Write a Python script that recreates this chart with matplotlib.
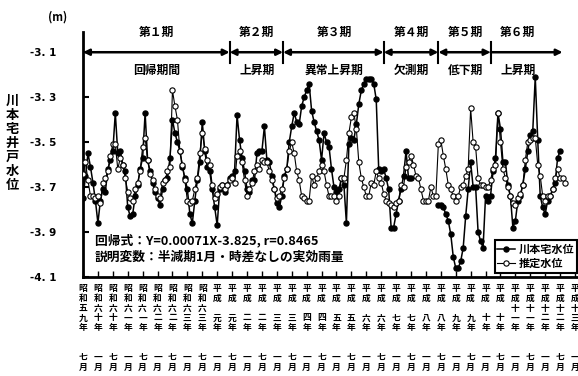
import numpy as np
import matplotlib
matplotlib.use("Agg")
import matplotlib.pyplot as plt

plt.rcParams['font.family'] = ['Noto Sans CJK JP', 'DejaVu Sans']

nan = np.nan
# month index 0 = 昭和59年7月 (1984-07), monthly values [m]
kawamoto = [
    -3.75, -3.65, -3.55, -3.61, -3.68, -3.76, -3.86, -3.76, -3.71, -3.72, -3.62, -3.58,
    -3.54, -3.37, -3.55, -3.54, -3.60, -3.63, -3.79, -3.83, -3.82, -3.74, -3.69, -3.62,
    -3.57, -3.37, -3.58, -3.63, -3.68, -3.72, -3.75, -3.78, -3.71, -3.67, -3.66, -3.57,
    -3.40, -3.46, -3.50, -3.54, -3.61, -3.66, -3.71, -3.82, -3.86, -3.76, -3.67, -3.59,
    -3.41, -3.54, -3.61, -3.63, -3.71, -3.79, -3.87, -3.71, -3.69, -3.72, -3.69, -3.66,
    -3.65, -3.63, -3.38, -3.49, -3.57, -3.63, -3.71, -3.72, -3.67, -3.67, -3.55, -3.54,
    -3.54, -3.43, -3.58, -3.59, -3.65, -3.71, -3.77, -3.79, -3.74, -3.65, -3.62, -3.50,
    -3.43, -3.37, -3.41, -3.42, -3.34, -3.30, -3.27, -3.24, -3.36, -3.41, -3.45, -3.49,
    -3.58, -3.46, -3.50, -3.52, -3.62, -3.70, -3.72, -3.71, -3.66, -3.69, -3.86, -3.51,
    -3.48, -3.49, -3.42, -3.33, -3.27, -3.24, -3.22, -3.22, -3.22, -3.24, -3.31, -3.62,
    -3.63, -3.62, -3.66, -3.71, -3.88, -3.88, -3.82, -3.76, -3.71, -3.65, -3.54, -3.66,
    -3.66, nan, nan, nan, nan, nan, nan, nan, nan, nan, nan, -3.78,
    -3.78, -3.79, -3.82, -3.85, -3.91, -4.01, -4.06, -4.06, -4.03, -3.97, -3.83, -3.71,
    -3.59, -3.70, -3.70, -3.90, -3.94, -3.97, -3.74, -3.76, -3.74, -3.63, -3.57, -3.37,
    -3.44, -3.59, -3.59, -3.69, -3.74, -3.88, -3.85, -3.76, -3.74, -3.69, -3.62, -3.54,
    -3.47, -3.45, -3.21, -3.49, -3.74, -3.79, -3.82, -3.76, -3.74, -3.71, -3.68, -3.57, -3.54,
]
estimated = [
    -3.64, -3.59, -3.67, -3.74, -3.74, -3.75, -3.74, -3.77, -3.68, -3.66, -3.63, -3.56,
    -3.51, -3.51, -3.62, -3.57, -3.60, -3.66, -3.72, -3.75, -3.76, -3.71, -3.68, -3.63,
    -3.52, -3.48, -3.58, -3.64, -3.67, -3.71, -3.74, -3.75, -3.68, -3.67, -3.63, -3.61,
    -3.27, -3.34, -3.40, -3.54, -3.60, -3.67, -3.76, -3.77, -3.76, -3.71, -3.66, -3.55,
    -3.46, -3.53, -3.58, -3.60, -3.69, -3.75, -3.73, -3.70, -3.69, -3.71, -3.69, -3.67,
    -3.66, -3.68, -3.56, -3.54, -3.59, -3.67, -3.74, -3.71, -3.68, -3.63, -3.60, -3.62,
    -3.58, -3.59, -3.59, -3.63, -3.67, -3.71, -3.75, -3.74, -3.71, -3.66, -3.62, -3.54,
    -3.50, -3.55, -3.63, -3.67, -3.74, -3.75, -3.76, -3.76, -3.65, -3.69, -3.66, -3.63,
    -3.60, -3.63, -3.69, -3.74, -3.74, -3.74, -3.76, -3.74, -3.66, -3.66, -3.58, -3.46,
    -3.39, -3.37, -3.44, -3.59, -3.66, -3.70, -3.74, -3.74, -3.68, -3.69, -3.63, -3.66,
    -3.68, -3.73, -3.76, -3.77, -3.78, -3.79, -3.77, -3.76, -3.69, -3.70, -3.61, -3.59,
    -3.56, -3.60, -3.65, -3.66, -3.71, -3.76, -3.76, -3.76, -3.70, -3.74, -3.74, -3.51,
    -3.49, -3.56, -3.62, -3.69, -3.71, -3.74, -3.76, -3.74, -3.70, -3.69, -3.65, -3.62,
    -3.35, -3.50, -3.52, -3.66, -3.69, -3.69, -3.70, -3.70, -3.67, -3.62, -3.60, -3.37,
    -3.50, -3.62, -3.66, -3.70, -3.74, -3.77, -3.78, -3.75, -3.73, -3.69, -3.58, -3.50,
    -3.49, -3.48, -3.48, -3.60, -3.65, -3.74, -3.76, -3.74, -3.74, -3.71, -3.66, -3.62,
    -3.66, -3.66, -3.68,
]

ytick_values = [-3.1, -3.3, -3.5, -3.7, -3.9, -4.1]
ytick_labels = ["-3. 1", "-3. 3", "-3. 5", "-3. 7", "-3. 9", "-4. 1"]

xtick_months = list(range(0, 199, 6))
xtick_labels = [
    "昭和五九年　　七月", "昭和六十年　　一月", "昭和六十年　　七月", "昭和六一年　　一月",
    "昭和六一年　　七月", "昭和六二年　　一月", "昭和六二年　　七月", "昭和六三年　　一月",
    "昭和六三年　　七月", "平成　元年　　一月", "平成　元年　　七月", "平成　二年　　一月",
    "平成　二年　　七月", "平成　三年　　一月", "平成　三年　　七月", "平成　四年　　一月",
    "平成　四年　　七月", "平成　五年　　一月", "平成　五年　　七月", "平成　六年　　一月",
    "平成　六年　　七月", "平成　七年　　一月", "平成　七年　　七月", "平成　八年　　一月",
    "平成　八年　　七月", "平成　九年　　一月", "平成　九年　　七月", "平成　十年　　一月",
    "平成　十年　　七月", "平成十一年　　一月", "平成十一年　　七月", "平成十二年　　一月",
    "平成十二年　　七月", "平成十三年　　一月",
]

period_edges = [0, 59, 80.5, 121, 143, 164, 193]
period_names = ["第１期", "第２期", "第３期", "第４期", "第５期", "第６期"]
period_phases = ["回帰期間", "上昇期", "異常上昇期", "欠測期", "低下期", "上昇期"]
period_centers = [29.5, 70, 101, 132, 154, 175]

series_names = ["川本宅水位", "推定水位"]
ylabel_text = "川本宅井戸水位"
equation_text = "回帰式：Y=0.00071X-3.825, r=0.8465"
variable_text = "説明変数：半減期1月・時差なしの実効雨量"

W, H = 578, 376
fig = plt.figure(figsize=(W / 100, H / 100), dpi=100)
ax = fig.add_axes([83 / W, 1 - 277 / H, (577 - 83) / W, (277 - 32) / H])

ax.plot(np.arange(len(kawamoto)), kawamoto, '-o', color='black', lw=1.1,
        ms=3.6, mfc='black', mec='black', label=series_names[0], zorder=3)
ax.plot(np.arange(len(estimated)), estimated, '-o', color='black', lw=0.8,
        ms=3.8, mfc='white', mec='black', mew=0.8, label=series_names[1], zorder=4)

ax.set_xlim(0, 198.8)
ax.set_ylim(-4.1, -3.01)
for s in ['top', 'right']:
    ax.spines[s].set_visible(False)
for s in ['left', 'bottom']:
    ax.spines[s].set_linewidth(2)

ax.set_yticks(ytick_values)
ax.set_yticklabels(ytick_labels, family='DejaVu Sans', fontsize=7.5, fontweight='bold')
ax.tick_params(axis='y', direction='in', length=4, width=1.5, pad=19)

ax.set_xticks(xtick_months)
ax.set_xticklabels(["\n".join(list(s)) for s in xtick_labels], fontsize=6.3,
                   fontweight='bold', linespacing=1.12, va='top')
ax.tick_params(axis='x', direction='in', length=4, width=1, pad=5)

# period arrows
for i in range(len(period_names)):
    a, b = period_edges[i], period_edges[i + 1]
    style = '<|-|>' if i < len(period_names) - 1 else '-|>'
    ax.annotate('', xy=(b, -3.1), xytext=(a, -3.1),
                arrowprops=dict(arrowstyle=style, color='black', lw=1.8,
                                shrinkA=0, shrinkB=0, mutation_scale=9),
                annotation_clip=False)
    ax.text(period_centers[i], -3.012, period_names[i], ha='center', va='center',
            fontsize=8.5, fontweight='bold')
    ax.text(period_centers[i], -3.18, period_phases[i], ha='center', va='center',
            fontsize=8.5, fontweight='bold')
for e in period_edges[1:-1]:
    ax.plot([e, e], [-3.055, -3.15], color='black', lw=1.5, clip_on=False)

leg = ax.legend(loc='lower right', bbox_to_anchor=(1.0, 0.016), frameon=True,
                fancybox=False, edgecolor='black', framealpha=1,
                prop={'size': 8, 'weight': 'bold'}, handlelength=1.6,
                handletextpad=0.3, borderpad=0.25, labelspacing=0.1, borderaxespad=0)
leg.get_frame().set_linewidth(1.5)

fig.text(95 / W, 1 - 240 / H, equation_text, ha='left', va='center', fontsize=9.2,
         fontweight='bold')
fig.text(95 / W, 1 - 257 / H, variable_text, ha='left', va='center', fontsize=9.2,
         fontweight='bold')
fig.text(12 / W, 1 - 143 / H, "\n".join(list(ylabel_text)), ha='center', va='center',
         fontsize=9.5, fontweight='bold', linespacing=1.0)
fig.text(58 / W, 1 - 17 / H, "(m)", ha='center', va='center', fontsize=8, fontweight='bold')

fig.savefig("out.png", dpi=100, facecolor='white')
